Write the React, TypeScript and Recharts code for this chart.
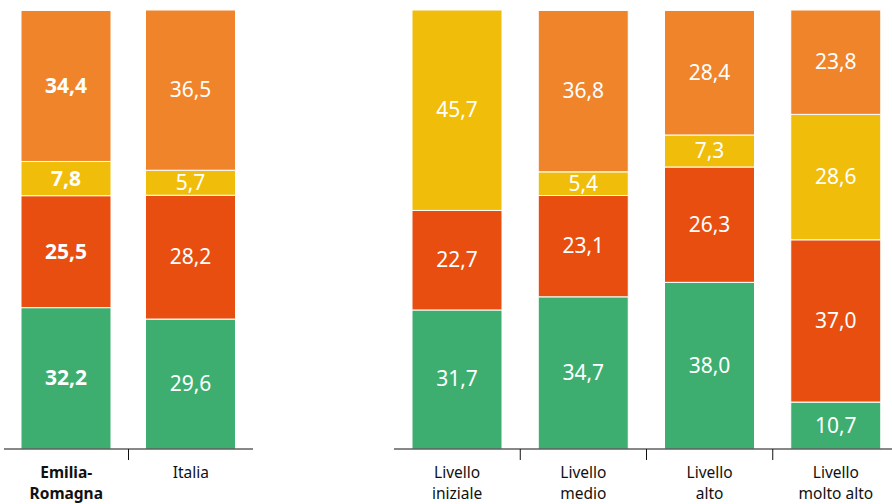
import React from 'react';
import { Bar, BarChart, LabelList, XAxis, YAxis } from 'recharts';

// left group: regione vs Italia
const areeNomi = ['Emilia-Romagna', 'Italia'];
const areeEtichette = [['Emilia-', 'Romagna'], ['Italia']];
const areeVerde = [32.2, 29.6];
const areeRosso = [25.5, 28.2];
const areeGiallo = [7.8, 5.7];
const areeArancio = [34.4, 36.5];

// right group: livelli
const livelliNomi = ['Livello iniziale', 'Livello medio', 'Livello alto', 'Livello molto alto'];
const livelliEtichette = [['Livello', 'iniziale'], ['Livello', 'medio'], ['Livello', 'alto'], ['Livello', 'molto alto']];
const livelliVerde = [31.7, 34.7, 38.0, 10.7];
const livelliRosso = [22.7, 23.1, 26.3, 37.0];
const livelliGiallo = [45.7, 5.4, 7.3, 28.6];
const livelliArancio = [null, 36.8, 28.4, 23.8];

const VERDE = '#3dae6f';
const ROSSO = '#e84e10';
const GIALLO = '#f0bd0b';
const ARANCIO = '#ef842b';
const FONT = '"Noto Sans", sans-serif';

function buildRows(nomi: string[], v: any[], r: any[], g: any[], a: any[]) {
    return nomi.map((nome, i) => ({ nome, verde: v[i], rosso: r[i], giallo: g[i], arancio: a[i] }));
}

const areeData = buildRows(areeNomi, areeVerde, areeRosso, areeGiallo, areeArancio);
const livelliData = buildRows(livelliNomi, livelliVerde, livelliRosso, livelliGiallo, livelliArancio);

const fmt = (v: number) => v.toFixed(1).replace('.', ',');

function makeLabel(boldIndex: number) {
    return (props: any) => {
        const { x, y, width, height, value, index } = props;
        if (value == null) return null;
        return (
            <text
                x={Number(x) + Number(width) / 2}
                y={Number(y) + Number(height) / 2 - 1}
                textAnchor="middle"
                dominantBaseline="central"
                fill="#fff"
                fontFamily={FONT}
                fontSize={21}
                fontWeight={index === boldIndex ? 700 : 400}
            >
                {fmt(Number(value))}
            </text>
        );
    };
}

function makeTick(etichette: string[][], band: number, boldIndex: number) {
    return (props: any) => {
        const { x, y, payload } = props;
        const i = payload.index;
        const lines = etichette[i] || [];
        const last = i === etichette.length - 1;
        return (
            <g>
                {!last && (
                    <line x1={x + band / 2} x2={x + band / 2} y1={y} y2={y + 11} stroke="#111" strokeWidth={1} />
                )}
                {lines.map((l, k) => (
                    <text
                        key={k}
                        x={x}
                        y={y + 23 + k * 21}
                        textAnchor="middle"
                        dominantBaseline="central"
                        fill="#111"
                        fontFamily={FONT}
                        fontSize={15.5}
                        fontWeight={i === boldIndex ? 700 : 400}
                    >
                        {l}
                    </text>
                ))}
            </g>
        );
    };
}

function Gruppo({ data, etichette, width, marginLeft, boldIndex }: any) {
    const band = (width - marginLeft) / data.length;
    return (
        <BarChart width={width} height={504} data={data} margin={{ top: 10, right: 0, bottom: 0, left: marginLeft }} barSize={90}>
            <XAxis
                dataKey="nome"
                height={55}
                axisLine={{ stroke: '#111', strokeWidth: 1 }}
                tickLine={false}
                tickSize={0}
                tickMargin={0}
                interval={0}
                tick={makeTick(etichette, band, boldIndex)}
            />
            <YAxis hide domain={[0, 100]} />
            <Bar dataKey="verde" stackId="s" fill={VERDE} stroke="#fff" strokeWidth={1} isAnimationActive={false}>
                <LabelList dataKey="verde" content={makeLabel(boldIndex)} />
            </Bar>
            <Bar dataKey="rosso" stackId="s" fill={ROSSO} stroke="#fff" strokeWidth={1} isAnimationActive={false}>
                <LabelList dataKey="rosso" content={makeLabel(boldIndex)} />
            </Bar>
            <Bar dataKey="giallo" stackId="s" fill={GIALLO} stroke="#fff" strokeWidth={1} isAnimationActive={false}>
                <LabelList dataKey="giallo" content={makeLabel(boldIndex)} />
            </Bar>
            <Bar dataKey="arancio" stackId="s" fill={ARANCIO} stroke="#fff" strokeWidth={1} isAnimationActive={false}>
                <LabelList dataKey="arancio" content={makeLabel(boldIndex)} />
            </Bar>
        </BarChart>
    );
}

export default function App() {
    return (
        <div style={{ position: 'absolute', top: 0, left: 0, width: 892, height: 504, overflow: 'hidden', background: '#fff' }}>
            <div style={{ position: 'absolute', top: 0, left: 0 }}>
                <Gruppo data={areeData} etichette={areeEtichette} width={253} marginLeft={4} boldIndex={0} />
            </div>
            <div style={{ position: 'absolute', top: 0, left: 394 }}>
                <Gruppo data={livelliData} etichette={livelliEtichette} width={505} marginLeft={0} boldIndex={-1} />
            </div>
        </div>
    );
}
